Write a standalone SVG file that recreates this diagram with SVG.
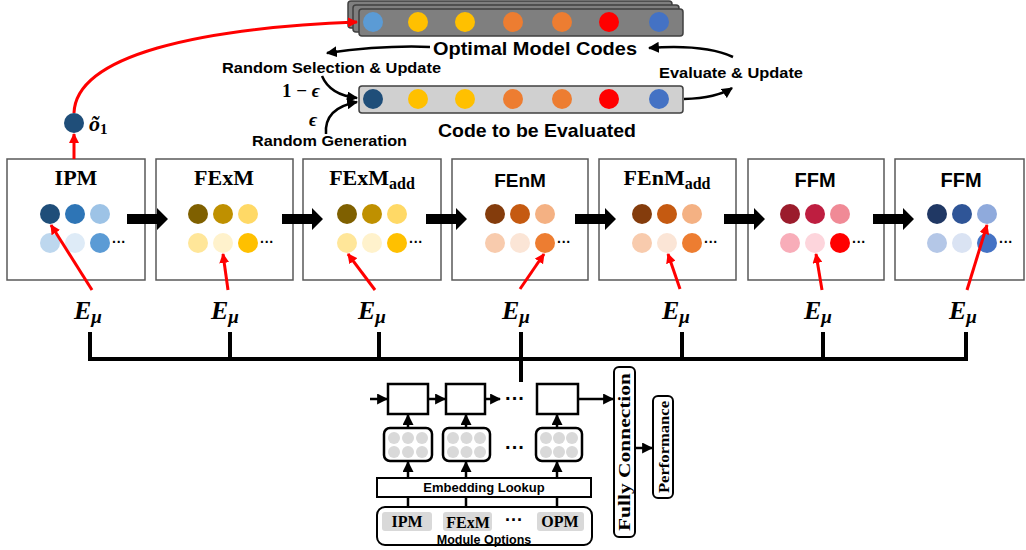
<svg xmlns="http://www.w3.org/2000/svg" width="1026" height="550" viewBox="0 0 1026 550">
<style>
.sans{font-family:"Liberation Sans","Open Sans",sans-serif;font-weight:bold;fill:#000}
.serif{font-family:"Liberation Serif","DejaVu Serif",serif;font-weight:bold;fill:#000}
.math{font-family:"Liberation Serif","DejaVu Serif",serif;font-weight:bold;font-style:italic;fill:#000}
.mbox{fill:#fff;stroke:#595959;stroke-width:1.5}
.blk{fill:none;stroke:#000;stroke-width:2.5}
.red{fill:none;stroke:#ff0000;stroke-width:3}
.thk{fill:none;stroke:#000;stroke-width:4}
.lstm{fill:#fff;stroke:#000;stroke-width:2.5}
.emb{fill:#fff;stroke:#000;stroke-width:2.5}
.g{fill:#d9d9d9}
</style>
<defs>
<marker id="ah" viewBox="0 0 10 10" refX="9" refY="5" markerWidth="11" markerHeight="11" markerUnits="userSpaceOnUse" orient="auto"><path d="M0,0 L10,5 L0,10 z" fill="#000"/></marker>
<marker id="ahr" viewBox="0 0 10 10" refX="9" refY="5" markerWidth="10" markerHeight="10" markerUnits="userSpaceOnUse" orient="auto"><path d="M0,0 L10,5 L0,10 z" fill="#ff0000"/></marker>
<path id="bigarrow" d="M0,-5 L30,-5 L30,-11 L41,0 L30,11 L30,5 L0,5 Z" fill="#000"/>
</defs>

<!-- Optimal model codes (stacked) -->
<g id="optimal-codes">
<rect x="348" y="1" width="324" height="27" rx="3" fill="#7f7f7f" stroke="#404040" stroke-width="1.5"/>
<rect x="353" y="5" width="326" height="27" rx="3" fill="#7f7f7f" stroke="#404040" stroke-width="1.5"/>
<rect x="359" y="9" width="324" height="27" rx="3" fill="#7f7f7f" stroke="#404040" stroke-width="1.5"/>
<circle cx="373" cy="22" r="10" fill="#5b9bd5"/>
<circle cx="418" cy="22" r="10" fill="#ffc000"/>
<circle cx="465" cy="22" r="10" fill="#ffc000"/>
<circle cx="513" cy="22" r="10" fill="#ed7d31"/>
<circle cx="562" cy="22" r="10" fill="#ed7d31"/>
<circle cx="609" cy="22" r="10" fill="#ff0000"/>
<circle cx="659" cy="22" r="10" fill="#4472c4"/>
<text class="sans" x="535" y="55" font-size="19" text-anchor="middle" textLength="204" lengthAdjust="spacingAndGlyphs">Optimal Model Codes</text>
</g>

<!-- Code to be evaluated -->
<g id="code-eval">
<rect x="359" y="86" width="324" height="27" rx="3" fill="#d0d0d0" stroke="#404040" stroke-width="1.5"/>
<circle cx="373" cy="99" r="10" fill="#1f4e79"/>
<circle cx="418" cy="99" r="10" fill="#ffc000"/>
<circle cx="465" cy="99" r="10" fill="#ffc000"/>
<circle cx="513" cy="99" r="10" fill="#ed7d31"/>
<circle cx="562" cy="99" r="10" fill="#ed7d31"/>
<circle cx="609" cy="99" r="10" fill="#ff0000"/>
<circle cx="659" cy="99" r="10" fill="#4472c4"/>
<text class="sans" x="537" y="137" font-size="19" text-anchor="middle" textLength="198" lengthAdjust="spacingAndGlyphs">Code to be Evaluated</text>
</g>

<g id="labels-top">
<text class="sans" x="222" y="73" font-size="15" textLength="219" lengthAdjust="spacingAndGlyphs">Random Selection &amp; Update</text>
<text class="serif" x="282" y="97" font-size="19">1 − <tspan font-style="italic">ϵ</tspan></text>
<text class="serif" x="309" y="126" font-size="19" font-style="italic">ϵ</text>
<text class="sans" x="252" y="146" font-size="15" textLength="155" lengthAdjust="spacingAndGlyphs">Random Generation</text>
<text class="sans" x="659" y="78" font-size="15" textLength="144" lengthAdjust="spacingAndGlyphs">Evaluate &amp; Update</text>
</g>

<g id="o1">
<circle cx="74" cy="123" r="10" fill="#1f4e79"/>
<text class="math" x="89" y="131" font-size="22">õ<tspan font-size="15" dy="3" font-style="normal">1</tspan></text>
</g>

<!-- Module boxes -->
<g id="m-ipm">
<rect class="mbox" x="7" y="159" width="138" height="121"/>
<text class="serif" x="76" y="185" font-size="22" text-anchor="middle">IPM</text>
<circle cx="50" cy="214" r="10" fill="#1f4e79"/><circle cx="75" cy="214" r="10" fill="#2e75b6"/><circle cx="100" cy="214" r="10" fill="#9dc3e6"/>
<circle cx="50" cy="243" r="10" fill="#bdd7ee"/><circle cx="75" cy="243" r="10" fill="#deebf7"/><circle cx="100" cy="243" r="10" fill="#5b9bd5"/>
<text class="sans" x="112" y="247" font-size="14">···</text>
</g>
<g id="m-fexm">
<rect class="mbox" x="156" y="159" width="137" height="121"/>
<text class="serif" x="224" y="185" font-size="22" text-anchor="middle">FExM</text>
<circle cx="198" cy="214" r="10" fill="#7f6000"/><circle cx="223" cy="214" r="10" fill="#bf9000"/><circle cx="248" cy="214" r="10" fill="#ffd966"/>
<circle cx="198" cy="243" r="10" fill="#ffe699"/><circle cx="223" cy="243" r="10" fill="#fff2cc"/><circle cx="248" cy="243" r="10" fill="#ffc000"/>
<text class="sans" x="260" y="247" font-size="14">···</text>
</g>
<g id="m-fexm-add">
<rect class="mbox" x="303" y="159" width="138" height="121"/>
<text class="serif" x="372" y="185" font-size="22" text-anchor="middle">FExM<tspan font-size="16" dy="4">add</tspan></text>
<circle cx="347" cy="214" r="10" fill="#7f6000"/><circle cx="372" cy="214" r="10" fill="#bf9000"/><circle cx="397" cy="214" r="10" fill="#ffd966"/>
<circle cx="347" cy="243" r="10" fill="#ffe699"/><circle cx="372" cy="243" r="10" fill="#fff2cc"/><circle cx="397" cy="243" r="10" fill="#ffc000"/>
<text class="sans" x="409" y="247" font-size="14">···</text>
</g>
<g id="m-fenm">
<rect class="mbox" x="452" y="159" width="136" height="121"/>
<text class="sans" x="520" y="187" font-size="19" text-anchor="middle">FEnM</text>
<circle cx="495" cy="214" r="10" fill="#843c0c"/><circle cx="520" cy="214" r="10" fill="#c55a11"/><circle cx="545" cy="214" r="10" fill="#f4b183"/>
<circle cx="495" cy="243" r="10" fill="#f8cbad"/><circle cx="520" cy="243" r="10" fill="#fbe5d6"/><circle cx="545" cy="243" r="10" fill="#ed7d31"/>
<text class="sans" x="557" y="247" font-size="14">···</text>
</g>
<g id="m-fenm-add">
<rect class="mbox" x="599" y="159" width="137" height="121"/>
<text class="serif" x="667" y="185" font-size="22" text-anchor="middle">FEnM<tspan font-size="16" dy="4">add</tspan></text>
<circle cx="642" cy="214" r="10" fill="#843c0c"/><circle cx="667" cy="214" r="10" fill="#c55a11"/><circle cx="692" cy="214" r="10" fill="#f4b183"/>
<circle cx="642" cy="243" r="10" fill="#f8cbad"/><circle cx="667" cy="243" r="10" fill="#fbe5d6"/><circle cx="692" cy="243" r="10" fill="#ed7d31"/>
<text class="sans" x="704" y="247" font-size="14">···</text>
</g>
<g id="m-ffm">
<rect class="mbox" x="748" y="159" width="136" height="121"/>
<text class="sans" x="815" y="187" font-size="20" text-anchor="middle">FFM</text>
<circle cx="790" cy="214" r="10" fill="#9b1c2c"/><circle cx="815" cy="214" r="10" fill="#be1e40"/><circle cx="840" cy="214" r="10" fill="#f08a96"/>
<circle cx="790" cy="243" r="10" fill="#f8adb9"/><circle cx="815" cy="243" r="10" fill="#fdd5dc"/><circle cx="840" cy="243" r="10" fill="#ff0000"/>
<text class="sans" x="852" y="247" font-size="14">···</text>
</g>
<g id="m-ffm2">
<rect class="mbox" x="895" y="159" width="129" height="121"/>
<text class="sans" x="961" y="187" font-size="20" text-anchor="middle">FFM</text>
<circle cx="937" cy="214" r="10" fill="#203864"/><circle cx="962" cy="214" r="10" fill="#2f5597"/><circle cx="987" cy="214" r="10" fill="#8faadc"/>
<circle cx="937" cy="243" r="10" fill="#b4c7e7"/><circle cx="962" cy="243" r="10" fill="#dae3f3"/><circle cx="987" cy="243" r="10" fill="#4472c4"/>
<text class="sans" x="999" y="247" font-size="14">···</text>
</g>

<!-- E_mu labels -->
<g id="emu-labels">
<text class="math" x="74" y="319" font-size="26">E<tspan font-size="19" dy="4">μ</tspan></text>
<text class="math" x="211" y="319" font-size="26">E<tspan font-size="19" dy="4">μ</tspan></text>
<text class="math" x="358" y="319" font-size="26">E<tspan font-size="19" dy="4">μ</tspan></text>
<text class="math" x="502" y="319" font-size="26">E<tspan font-size="19" dy="4">μ</tspan></text>
<text class="math" x="662" y="319" font-size="26">E<tspan font-size="19" dy="4">μ</tspan></text>
<text class="math" x="804" y="319" font-size="26">E<tspan font-size="19" dy="4">μ</tspan></text>
<text class="math" x="949" y="319" font-size="26">E<tspan font-size="19" dy="4">μ</tspan></text>
</g>

<!-- Bottom model -->
<g id="lstm">
<rect class="lstm" x="388" y="384" width="40" height="30"/>
<rect class="lstm" x="446" y="384" width="39" height="30"/>
<rect class="lstm" x="537" y="384" width="41" height="30"/>
<text class="sans" x="505" y="405" font-size="20">···</text>
</g>
<g id="embeddings">
<rect class="emb" x="384" y="428" width="48" height="33" rx="6"/>
<circle class="g" cx="394" cy="438" r="6"/><circle class="g" cx="408" cy="438" r="6"/><circle class="g" cx="422" cy="438" r="6"/>
<circle class="g" cx="394" cy="452" r="6"/><circle class="g" cx="408" cy="452" r="6"/><circle class="g" cx="422" cy="452" r="6"/>
<rect class="emb" x="443" y="428" width="47" height="33" rx="6"/>
<circle class="g" cx="453" cy="438" r="6"/><circle class="g" cx="466.5" cy="438" r="6"/><circle class="g" cx="480" cy="438" r="6"/>
<circle class="g" cx="453" cy="452" r="6"/><circle class="g" cx="466.5" cy="452" r="6"/><circle class="g" cx="480" cy="452" r="6"/>
<rect class="emb" x="536" y="428" width="46" height="33" rx="6"/>
<circle class="g" cx="546" cy="438" r="6"/><circle class="g" cx="559" cy="438" r="6"/><circle class="g" cx="572" cy="438" r="6"/>
<circle class="g" cx="546" cy="452" r="6"/><circle class="g" cx="559" cy="452" r="6"/><circle class="g" cx="572" cy="452" r="6"/>
<text class="sans" x="505" y="454" font-size="20">···</text>
</g>
<g id="embedding-lookup">
<rect x="377" y="478" width="214" height="19" fill="#fff" stroke="#000" stroke-width="2"/>
<text class="sans" x="484" y="492" font-size="13" text-anchor="middle">Embedding Lookup</text>
</g>
<g id="module-options">
<rect x="377" y="507" width="215" height="38" rx="8" fill="#fff" stroke="#000" stroke-width="2"/>
<rect class="g" x="382" y="512" width="50" height="19" rx="3"/>
<rect class="g" x="443" y="512" width="49" height="19" rx="3"/>
<rect class="g" x="537" y="512" width="47" height="19" rx="3"/>
<text class="serif" x="407" y="527" font-size="16" text-anchor="middle">IPM</text>
<text class="serif" x="468" y="528" font-size="16" text-anchor="middle">FExM</text>
<text class="serif" x="560" y="527" font-size="16" text-anchor="middle">OPM</text>
<text class="sans" x="505" y="526" font-size="18">···</text>
<text class="sans" x="484" y="543.5" font-size="12.5" text-anchor="middle">Module Options</text>
</g>
<g id="fully-connection">
<rect x="614" y="367" width="21" height="170" rx="5" fill="#fff" stroke="#000" stroke-width="2"/>
<text class="serif" transform="translate(630,452) rotate(-90)" x="0" y="0" font-size="16" text-anchor="middle" textLength="158" lengthAdjust="spacingAndGlyphs">Fully Connection</text>
</g>
<g id="performance">
<rect x="653" y="396" width="20" height="102" rx="5" fill="#fff" stroke="#000" stroke-width="2"/>
<text class="serif" transform="translate(668.5,447) rotate(-90)" x="0" y="0" font-size="15" text-anchor="middle" textLength="92" lengthAdjust="spacingAndGlyphs">Performance</text>
</g>

<!-- Connectors -->
<g id="connectors">
<path class="blk" d="M430,47 Q385,45 327,53" marker-end="url(#ah)"/>
<path class="blk" d="M733,57 Q705,44 649,48" marker-end="url(#ah)"/>
<path class="blk" d="M322,76 Q330,95 357,98" marker-end="url(#ah)"/>
<path class="blk" d="M326,134 Q324,108 357,102" marker-end="url(#ah)"/>
<path class="blk" d="M684,99 Q717,98 732,88" marker-end="url(#ah)"/>

<path class="red" d="M74,113 C76,55 200,28 357,22" marker-end="url(#ahr)"/>
<path class="red" d="M74,159 L74,134" marker-end="url(#ahr)"/>

<use href="#bigarrow" x="127" y="219"/>
<use href="#bigarrow" x="282" y="219"/>
<use href="#bigarrow" x="426" y="219"/>
<use href="#bigarrow" x="575" y="219"/>
<use href="#bigarrow" x="724" y="219"/>
<use href="#bigarrow" x="873" y="219"/>

<path class="red" d="M92,290 L51,225" marker-end="url(#ahr)"/>
<path class="red" d="M228,290 L223,254" marker-end="url(#ahr)"/>
<path class="red" d="M375,290 L348,254" marker-end="url(#ahr)"/>
<path class="red" d="M520,289 L544,254" marker-end="url(#ahr)"/>
<path class="red" d="M680,289 L668,254" marker-end="url(#ahr)"/>
<path class="red" d="M822,290 L816,254" marker-end="url(#ahr)"/>
<path class="red" d="M967,290 L987,225" marker-end="url(#ahr)"/>

<path class="thk" d="M90,332 L90,359 L966,359 L966,332 M230,332 L230,359 M379,332 L379,359 M521,332 L521,382 M682,332 L682,359 M823,332 L823,359" stroke-linejoin="miter"/>

<path class="blk" stroke-width="3" d="M370,399 L387,399" marker-end="url(#ah)"/>
<path class="blk" stroke-width="3" d="M428,399 L445,399" marker-end="url(#ah)"/>
<path class="blk" stroke-width="3" d="M485,399 L500,399" marker-end="url(#ah)"/>
<path class="blk" stroke-width="3" d="M578,399 L613,399" marker-end="url(#ah)"/>
<path class="blk" stroke-width="3" d="M408,428 L408,415" marker-end="url(#ah)"/>
<path class="blk" stroke-width="3" d="M466,428 L466,415" marker-end="url(#ah)"/>
<path class="blk" stroke-width="3" d="M557,428 L557,415" marker-end="url(#ah)"/>
<path class="blk" stroke-width="3" d="M408,478 L408,462" marker-end="url(#ah)"/>
<path class="blk" stroke-width="3" d="M466,478 L466,462" marker-end="url(#ah)"/>
<path class="blk" stroke-width="3" d="M557,478 L557,462" marker-end="url(#ah)"/>
<path class="blk" stroke-width="3" d="M408,507 L408,497 M466,507 L466,497 M557,507 L557,497"/>
<path class="blk" stroke-width="3" d="M635,448 L652,448" marker-end="url(#ah)"/>
</g>
</svg>
